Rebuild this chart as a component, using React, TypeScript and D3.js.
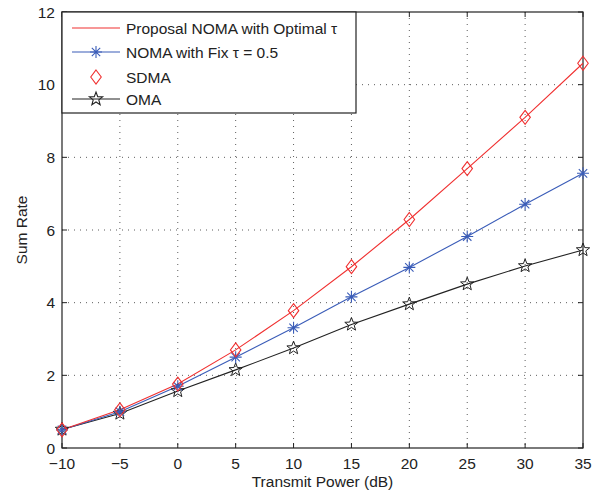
import { useEffect, useRef } from 'react'
import * as d3 from 'd3'

const power = [-10, -5, 0, 5, 10, 15, 20, 25, 30, 35]
const proposal = [0.5, 1.05, 1.76, 2.7, 3.78, 4.99, 6.29, 7.69, 9.1, 10.59]
const fixTau = [0.5, 1.0, 1.7, 2.5, 3.31, 4.16, 4.97, 5.82, 6.71, 7.56]
const sdma = [0.5, 1.05, 1.76, 2.7, 3.78, 4.99, 6.29, 7.69, 9.1, 10.59]
const oma = [0.51, 0.95, 1.57, 2.15, 2.75, 3.4, 3.96, 4.51, 5.01, 5.45]
const xTicks = [-10, -5, 0, 5, 10, 15, 20, 25, 30, 35]
const yTicks = [0, 2, 4, 6, 8, 10, 12]

const W = 606
const H = 494
const M = { top: 12, right: 23, bottom: 46, left: 62 }
const RED = '#f03030'
const BLUE = '#3a5cb8'
const FONT = 'Liberation Sans, Arial, Helvetica, sans-serif'
const FS = 15.5

function starPath(r: number) {
  const pts: string[] = []
  for (let i = 0; i < 10; i++) {
    const rr = i % 2 === 0 ? r : r * 0.42
    const a = -Math.PI / 2 + (i * Math.PI) / 5
    pts.push(`${(rr * Math.cos(a)).toFixed(2)},${(rr * Math.sin(a)).toFixed(2)}`)
  }
  return 'M' + pts.join('L') + 'Z'
}

function asterPath(r: number) {
  const d = r * 0.7
  return `M${-r},0L${r},0M0,${-r}L0,${r}M${-d},${-d}L${d},${d}M${-d},${d}L${d},${-d}`
}

function diamondPath(r: number) {
  return `M0,${-r}L${r * 0.75},0L0,${r}L${-r * 0.75},0Z`
}

export default function App() {
  const svgRef = useRef<SVGSVGElement>(null)

  useEffect(() => {
    const svg = d3.select(svgRef.current)
    svg.selectAll('*').remove()
    const iW = W - M.left - M.right
    const iH = H - M.top - M.bottom

    const x = d3.scaleLinear().domain([-10, 35]).range([0, iW])
    const y = d3.scaleLinear().domain([0, 12]).range([iH, 0])

    svg.append('rect').attr('width', W).attr('height', H).attr('fill', '#fff')
    const g = svg.append('g').attr('transform', `translate(${M.left},${M.top})`)

    // dotted grid
    g.append('g').selectAll('line').data(xTicks.slice(1, -1)).join('line')
      .attr('x1', d => x(d)).attr('x2', d => x(d)).attr('y1', 0).attr('y2', iH)
      .attr('stroke', '#333').attr('stroke-width', 0.8).attr('stroke-dasharray', '1,5')
    g.append('g').selectAll('line').data(yTicks.slice(1, -1)).join('line')
      .attr('y1', d => y(d)).attr('y2', d => y(d)).attr('x1', 0).attr('x2', iW)
      .attr('stroke', '#333').attr('stroke-width', 0.8).attr('stroke-dasharray', '1,5')

    // inward ticks on all sides
    const tl = 5
    const ticks = g.append('g').attr('stroke', '#222').attr('stroke-width', 1)
    xTicks.forEach(t => {
      ticks.append('line').attr('x1', x(t)).attr('x2', x(t)).attr('y1', iH).attr('y2', iH - tl)
      ticks.append('line').attr('x1', x(t)).attr('x2', x(t)).attr('y1', 0).attr('y2', tl)
    })
    yTicks.forEach(t => {
      ticks.append('line').attr('y1', y(t)).attr('y2', y(t)).attr('x1', 0).attr('x2', tl)
      ticks.append('line').attr('y1', y(t)).attr('y2', y(t)).attr('x1', iW).attr('x2', iW - tl)
    })

    g.append('rect').attr('width', iW).attr('height', iH)
      .attr('fill', 'none').attr('stroke', '#222').attr('stroke-width', 1.2)

    // tick labels
    g.append('g').selectAll('text').data(xTicks).join('text')
      .attr('x', d => x(d)).attr('y', iH + 21).attr('text-anchor', 'middle')
      .attr('font-family', FONT).attr('font-size', FS).attr('fill', '#222')
      .text(d => (d < 0 ? '\u2212' + Math.abs(d) : String(d)))
    g.append('g').selectAll('text').data(yTicks).join('text')
      .attr('x', -7).attr('y', d => y(d) + 5.5).attr('text-anchor', 'end')
      .attr('font-family', FONT).attr('font-size', FS).attr('fill', '#222')
      .text(d => d)

    svg.append('text').attr('x', M.left + iW / 2).attr('y', H - 7).attr('text-anchor', 'middle')
      .attr('font-family', FONT).attr('font-size', FS).attr('fill', '#222').text('Transmit Power (dB)')
    svg.append('text').attr('transform', `translate(27,${M.top + iH / 2}) rotate(-90)`)
      .attr('text-anchor', 'middle').attr('font-family', FONT).attr('font-size', FS).attr('fill', '#222')
      .text('Sum Rate')

    const line = d3.line<number>().x((_, i) => x(power[i])).y(d => y(d))

    g.append('path').datum(oma).attr('d', line).attr('fill', 'none').attr('stroke', '#222').attr('stroke-width', 1.1)
    g.append('path').datum(fixTau).attr('d', line).attr('fill', 'none').attr('stroke', BLUE).attr('stroke-width', 1.1)
    g.append('path').datum(proposal).attr('d', line).attr('fill', 'none').attr('stroke', RED).attr('stroke-width', 1.1)

    g.append('g').selectAll('path').data(oma).join('path')
      .attr('transform', (d, i) => `translate(${x(power[i])},${y(d)})`)
      .attr('d', starPath(7)).attr('fill', 'none').attr('stroke', '#222').attr('stroke-width', 1)
    g.append('g').selectAll('path').data(fixTau).join('path')
      .attr('transform', (d, i) => `translate(${x(power[i])},${y(d)})`)
      .attr('d', asterPath(6)).attr('fill', 'none').attr('stroke', BLUE).attr('stroke-width', 1.1)
    g.append('g').selectAll('path').data(sdma).join('path')
      .attr('transform', (d, i) => `translate(${x(power[i])},${y(d)})`)
      .attr('d', diamondPath(7)).attr('fill', 'none').attr('stroke', RED).attr('stroke-width', 1.1)

    // legend
    const lg = g.append('g')
    lg.append('rect').attr('x', 0).attr('y', 0).attr('width', 294).attr('height', 101)
      .attr('fill', '#fff').attr('stroke', '#222').attr('stroke-width', 1.2)
    const entries = [
      { label: 'Proposal NOMA with Optimal \u03c4', color: RED, line: true, marker: '' },
      { label: 'NOMA with Fix \u03c4 = 0.5', color: BLUE, line: true, marker: asterPath(6) },
      { label: 'SDMA', color: RED, line: false, marker: diamondPath(7) },
      { label: 'OMA', color: '#222', line: true, marker: starPath(7) },
    ]
    const rowY = [16, 40, 65, 87]
    entries.forEach((e, i) => {
      const yy = rowY[i]
      if (e.line) lg.append('line').attr('x1', 10).attr('x2', 58).attr('y1', yy).attr('y2', yy)
        .attr('stroke', e.color).attr('stroke-width', 1.1)
      if (e.marker) lg.append('path').attr('transform', `translate(34,${yy})`).attr('d', e.marker)
        .attr('fill', 'none').attr('stroke', e.color).attr('stroke-width', 1.1)
      lg.append('text').attr('x', 64).attr('y', yy + 5.5).attr('font-family', FONT).attr('font-size', FS)
        .attr('fill', '#222').text(e.label)
    })
  }, [])

  return <svg ref={svgRef} width={W} height={H} style={{ display: 'block', position: 'absolute', left: 0, top: 0 }} />
}
